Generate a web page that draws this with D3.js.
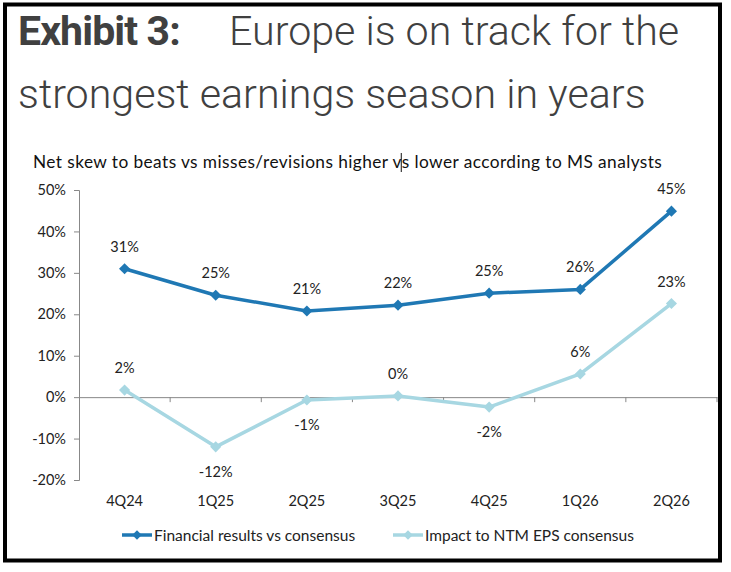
<!DOCTYPE html>
<html><head><meta charset="utf-8">
<script src="https://cdn.jsdelivr.net/npm/d3@7/dist/d3.min.js"></script>
<style>
html,body{margin:0;padding:0;background:#fff;}
svg{display:block;}
</style></head>
<body>
<svg id="chart" width="731" height="572"></svg>
<script>
const categories = ["4Q24","1Q25","2Q25","3Q25","4Q25","1Q26","2Q26"];
const financialResults = [31, 24.6, 20.8, 22.2, 25.1, 26.0, 44.9];
const financialLabels = ["31%","25%","21%","22%","25%","26%","45%"];
const impactNTM = [1.7, -12.0, -0.7, 0.3, -2.4, 5.6, 22.6];
const impactLabels = ["2%","-12%","-1%","0%","-2%","6%","23%"];
const impactLabelBelow = [false, true, true, false, true, false, false];
const yTicks = [-20,-10,0,10,20,30,40,50];
const seriesNames = ["Financial results vs consensus","Impact to NTM EPS consensus"];
const colors = ["#1f78b4","#a7d7e2"];

const svg = d3.select("#chart");
const textFont = "Lato, 'Open Sans', sans-serif";

// frame
svg.append("rect").attr("x",5).attr("y",4.5).attr("width",715).attr("height",556)
  .attr("fill","none").attr("stroke","#000").attr("stroke-width",4);

// title
const t1 = svg.append("text").attr("x",18).attr("y",44.5)
  .attr("font-family","Roboto, sans-serif").attr("fill","#404040");
t1.append("tspan").attr("font-weight",700).attr("font-size",41).attr("letter-spacing",-0.9).text("Exhibit 3:");
t1.append("tspan").attr("x",229).attr("font-weight",300).attr("font-size",41.2).text("Europe is on track for the");
svg.append("text").attr("x",18).attr("y",108)
  .attr("font-family","Roboto, sans-serif").attr("font-size",41.2).attr("font-weight",300)
  .attr("fill","#404040").text("strongest earnings season in years");

const sub = svg.append("text").attr("x",33).attr("y",168)
  .attr("font-family",textFont).attr("font-size",17.3).attr("letter-spacing",0.42).attr("fill","#111")
  .text("Net skew to beats vs misses/revisions higher vs lower according to MS analysts");
// text cursor artefact in the source image (between "v" and "s" of the second "vs")
const subNode = sub.node();
const txt = subNode.textContent;
const idx = txt.indexOf("higher vs") + "higher v".length;
let cursorX = 405;
try { cursorX = subNode.getStartPositionOfChar(idx).x - 0.5; } catch(e) {}
svg.append("line").attr("x1",cursorX).attr("x2",cursorX).attr("y1",153).attr("y2",172)
  .attr("stroke","#111").attr("stroke-width",1);

const x = d3.scaleBand().domain(categories).range([79,717]);
const y = d3.scaleLinear().domain([-20,50]).range([480,190]);

// y axis
const yAxis = svg.append("g").attr("transform","translate(79,0)")
  .call(d3.axisLeft(y).tickValues(yTicks).tickFormat(d=>d+"%").tickSizeOuter(0).tickSize(5).tickPadding(8));
yAxis.select(".domain").attr("stroke","#888");
yAxis.selectAll(".tick line").attr("stroke","#888");
yAxis.selectAll(".tick text").attr("font-family",textFont).attr("font-size",14.5).attr("fill","#222");

// x axis line at 0
const xAxis = svg.append("g").attr("transform",`translate(0,${y(0)})`)
  .call(d3.axisBottom(x).tickSize(0).tickFormat(""));
xAxis.select(".domain").attr("stroke","#888");
// band boundary ticks
const boundaries = categories.map(c=>x(c)+x.bandwidth());
svg.append("g").selectAll("line").data(boundaries).join("line")
  .attr("x1",d=>d).attr("x2",d=>d).attr("y1",y(0)).attr("y2",y(0)+5)
  .attr("stroke","#888");

// x labels at bottom
svg.append("g").selectAll("text").data(categories).join("text")
  .attr("x",d=>x(d)+x.bandwidth()/2).attr("y",506).attr("text-anchor","middle")
  .attr("font-family",textFont).attr("font-size",14.5).attr("fill","#222").text(d=>d);

const cx = d=>x(d)+x.bandwidth()/2;
const line = d3.line().x((d,i)=>cx(categories[i])).y(d=>y(d));

function drawSeries(vals, color){
  svg.append("path").datum(vals).attr("d",line).attr("fill","none")
    .attr("stroke",color).attr("stroke-width",3.5).attr("stroke-linejoin","round");
  svg.append("g").selectAll("path").data(vals).join("path")
    .attr("transform",(d,i)=>`translate(${cx(categories[i])},${y(d)}) rotate(45)`)
    .attr("d",d3.symbol().type(d3.symbolSquare).size(62)()).attr("fill",color);
}
drawSeries(financialResults, colors[0]);
drawSeries(impactNTM, colors[1]);

// data labels
svg.append("g").selectAll("text").data(financialResults).join("text")
  .attr("x",(d,i)=>cx(categories[i])).attr("y",d=>y(d)-17).attr("text-anchor","middle")
  .attr("font-family",textFont).attr("font-size",14.5).attr("fill","#222")
  .text((d,i)=>financialLabels[i]);
svg.append("g").selectAll("text").data(impactNTM).join("text")
  .attr("x",(d,i)=>cx(categories[i]))
  .attr("y",(d,i)=>impactLabelBelow[i] ? y(d)+30 : y(d)-17).attr("text-anchor","middle")
  .attr("font-family",textFont).attr("font-size",14.5).attr("fill","#222")
  .text((d,i)=>impactLabels[i]);

// legend
const legendX = [122, 393];
const lg = svg.append("g").selectAll("g").data(seriesNames).join("g")
  .attr("transform",(d,i)=>`translate(${legendX[i]},535)`);
lg.append("line").attr("x1",0).attr("x2",30).attr("y1",0).attr("y2",0)
  .attr("stroke",(d,i)=>colors[i]).attr("stroke-width",3.5);
lg.append("path").attr("transform","translate(15,0) rotate(45)")
  .attr("d",d3.symbol().type(d3.symbolSquare).size(45)()).attr("fill",(d,i)=>colors[i]);
lg.append("text").attr("x",32).attr("y",5.5)
  .attr("font-family",textFont).attr("font-size",15.5).attr("fill","#222").text(d=>d);
</script>
</body></html>
